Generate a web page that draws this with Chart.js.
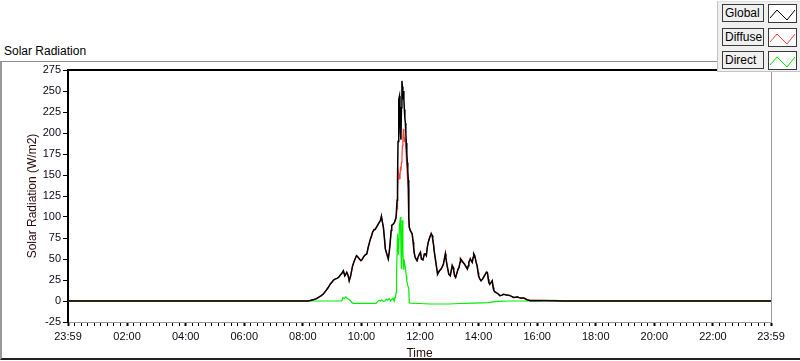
<!DOCTYPE html>
<html><head><meta charset="utf-8">
<script src="https://cdn.jsdelivr.net/npm/chart.js@4.4.1/dist/chart.umd.min.js"></script>
<style>
html,body{margin:0;padding:0;background:#fff;width:800px;height:361px;overflow:hidden;font-family:"Liberation Sans",Arial,sans-serif;}
#title{position:absolute;left:4px;top:44px;font-size:12px;line-height:14px;color:#000;white-space:nowrap;}
#frame{position:absolute;left:0;top:61px;width:830px;height:296px;border-top:1px solid #8c8c8c;border-left:2px solid #9a9a9a;border-bottom:2px solid #202020;}
#wrap{position:absolute;left:0;top:0;width:800px;height:361px;}
#legend{position:absolute;left:717px;top:1px;width:83px;height:71px;background:#f0f0f0;border-left:1px solid #c4c4c4;border-bottom:1px solid #c4c4c4;border-top:1px solid #e0e0e0;box-sizing:border-box;z-index:5;}
.row{position:absolute;left:4px;width:76px;height:19px;}
.lab{position:absolute;left:0;top:0;width:42px;height:18px;border:1px solid #3a3a3a;box-sizing:border-box;font-size:12px;line-height:16px;padding-left:2px;background:#f0f0f0;color:#000;white-space:nowrap;overflow:hidden;}
.sw{position:absolute;left:46px;top:0;width:29px;height:19px;border:1px solid #3a3a3a;background:#fff;box-sizing:border-box;}
.sw svg{position:absolute;left:0;top:0;}
</style>
</head><body>
<div id="frame"></div>
<div id="title">Solar Radiation</div>
<div id="wrap"><canvas id="c" width="800" height="361"></canvas></div>
<div id="legend"></div>
<script>
// ---- data ----
const seriesNames = ['Global', 'Diffuse', 'Direct'];
const seriesColors = ['#000000', '#ff4040', '#00ee00'];

const xMajorValues = [-1, 120, 240, 360, 480, 600, 720, 840, 960, 1080, 1200, 1320, 1439];
const xMajorLabels = ['23:59', '02:00', '04:00', '06:00', '08:00', '10:00', '12:00', '14:00', '16:00', '18:00', '20:00', '22:00', '23:59'];

// time in minutes after midnight
const globalTimes = [
  -1,490,495,501,507,512,517,522,527,532,
  536,539,543,546,550,553,557,560,563,566,
  570,573,575,578,582,585,587,590,592,596,
  599,601,605,608,611,614,618,621,623,626,
  628,631,633,635,637,639,641,643,645,647,
  649,651,653,655,657,659,661,662,664,666,
  668,670,671,673,674,675,676,677,678,679,
  680,681,682,683,684,685,686,687,688,689,
  690,691,692,693,694,695,696,697,698,700,
  702,704,706,707,708,710,712,714,716,719,
  721,723,726,729,731,733,735,737,739,741,
  743,745,746,748,749,751,753,755,756,758,
  760,763,765,768,770,772,773,775,777,779,
  782,784,786,788,789,791,793,796,798,800,
  802,803,806,808,811,813,815,817,819,820,
  823,825,827,829,830,832,833,835,837,839,
  840,842,845,848,851,854,856,858,860,861,
  863,864,866,868,870,871,873,877,880,884,
  888,891,895,898,902,905,909,912,916,919,
  923,926,930,933,936,939,943,946,950,960,
  1020,1439
];
const globalValues = [
  0,0,0.5,1.5,2.5,4.3,6,8.3,12,16,
  20,22,25,26,27,28,31,33,36,30,
  34,30,24,30,42,47,50,54,53,50,
  48,49,53,55,56,64,73,78,82,85,
  85,88,90,92,94,96,101,94,88,76,
  62,58,54,50,58,70,84,90,91,92,
  94,98,100,120,144,190,232,240,244,220,
  200,192,230,262,255,240,250,240,228,218,
  212,200,188,176,165,155,144,100,88,84,
  82,80,70,64,58,52,50,48,52,56,
  58,50,49,56,56,54,64,70,74,77,
  80,78,74,66,60,52,44,36,32,34,
  36,38,40,44,50,56,52,44,38,32,
  30,36,42,40,36,30,28,34,38,40,
  46,50,48,46,44,42,40,38,42,46,
  50,48,46,52,56,54,52,46,42,34,
  30,27,24,26,29,32,34,34,26,22,
  20,21,22,24,16,13,11,9.6,8.5,6.3,
  7,8,7.5,7,6.8,6.3,5,4.3,4.5,5,
  4,3.5,3.5,3.5,2.5,1.5,0.8,0.4,0.2,0.2,
  0,0
];
const diffuseValues = [
  0,0,0.5,1.5,2.5,4.3,6,8.3,12,16,
  20,22,25,26,27,28,31,33,36,30,
  34,30,24,30,42,47,50,54,53,50,
  48,49,53,55,56,64,73,78,82,85,
  85,88,90,92,94,96,101,94,88,76,
  62,58,54,50,58,70,84,90,91,92,
  94,96,98,110,130,145,150,152,148,145,
  160,155,165,170,185,195,205,200,190,195,
  190,182,170,160,150,140,135,100,88,84,
  82,80,70,64,58,52,50,48,52,56,
  58,50,49,56,56,54,64,70,74,78,
  81,78,74,66,60,52,44,36,32,34,
  36,38,40,44,50,57,52,44,38,32,
  30,36,43,40,36,30,28,34,38,40,
  46,51,48,46,44,42,40,38,42,46,
  51,48,46,52,57,54,52,46,42,34,
  30,27,24,26,29,32,35,34,26,22,
  20,21,23,24,16,13,11,9.6,8.5,6.3,
  7,8,7.5,7,6.8,6.3,5,4.3,4.5,5,
  4,3.5,3.5,3.5,2.5,1.5,1,1,1,1,
  0,0
];
const directTimes = [
  -1,490,560,562,565,568,571,574,578,581,
  583,600,630,633,636,639,642,645,648,651,
  654,657,660,662,664,666,667,668,669,670,
  671,672,674,676,678,680,681,682,684,685,
  686,687,688,690,692,693,695,697,698,700,
  720,740,780,800,830,860,870,880,900,940,
  965,970,1000,1003,1020,1439
];
const directValues = [
  0,0,0,4,3,5,3,2,0,-2,
  -2.8,-2.8,-2.8,-1,1,0,1.5,-0.5,0,2,
  1,3,0,2,3,1,3,2,4,6,
  10,30,80,55,90,100,60,38,96,60,
  38,50,47,40,30,24,18,15,-2,-2.5,
  -3,-3.6,-3.6,-3,-2.5,-2,-1,-0.5,0,0,
  0,0.8,0.8,0,0,0
];

// ---- chart ----
const FONT = '"Liberation Sans", Arial, sans-serif';
const toXY = (ts, vs) => ts.map((t, i) => ({ x: t, y: vs[i] }));

// axis tick positions: majors plus 8 minor ticks in each interval
const xTickValues = [];
for (let i = 0; i < xMajorValues.length; i++) {
  xTickValues.push(xMajorValues[i]);
  if (i < xMajorValues.length - 1) {
    const a = xMajorValues[i], b = xMajorValues[i + 1];
    for (let k = 1; k < 9; k++) xTickValues.push(a + (b - a) * k / 9);
  }
}
const majorIndex = v => xMajorValues.indexOf(v);

const framePlugin = {
  id: 'frame',
  afterDraw(chart) {
    const { ctx, chartArea: a } = chart;
    ctx.save();
    ctx.strokeStyle = '#000';
    ctx.lineWidth = 2;
    ctx.beginPath();
    ctx.moveTo(a.left - 1, a.top);
    ctx.lineTo(a.right, a.top);
    ctx.stroke();
    ctx.strokeStyle = '#9a9a9a';
    ctx.lineWidth = 1;
    ctx.beginPath();
    ctx.moveTo(a.right + 0.5, a.top);
    ctx.lineTo(a.right + 0.5, a.bottom);
    ctx.stroke();
    ctx.restore();
  }
};

const datasetValues = [
  toXY(globalTimes, globalValues),
  toXY(globalTimes, diffuseValues),
  toXY(directTimes, directValues)
];
const lineWidths = [1.5, 1.2, 1.2];

const chart = new Chart(document.getElementById('c'), {
  type: 'line',
  data: {
    datasets: seriesNames.map((n, i) => ({
      label: n,
      data: datasetValues[i],
      borderColor: seriesColors[i],
      backgroundColor: seriesColors[i],
      borderWidth: lineWidths[i],
      pointRadius: 0,
      tension: 0,
      fill: false
    }))
  },
  options: {
    responsive: false,
    animation: false,
    events: [],
    layout: { padding: { left: 0, top: 70, right: 29, bottom: 0 } },
    plugins: { legend: { display: false }, tooltip: { enabled: false } },
    scales: {
      x: {
        type: 'linear',
        min: -1,
        max: 1439,
        afterBuildTicks: s => { s.ticks = xTickValues.map(v => ({ value: v })); },
        afterFit: s => { s.height = 39; },
        ticks: {
          autoSkip: false, maxRotation: 0, minRotation: 0, padding: 4,
          color: '#0a0a1a', font: { family: FONT, size: 11 },
          callback: v => { const k = majorIndex(v); return k >= 0 ? xMajorLabels[k] : ''; }
        },
        grid: {
          drawOnChartArea: false, drawTicks: true, tickLength: 4, tickColor: '#000',
          tickWidth: c => (c.tick && majorIndex(c.tick.value) >= 0) ? 2 : 1
        },
        border: { color: '#9a9a9a', width: 1 },
        title: { display: true, text: 'Time', color: '#2a0a0a', font: { family: FONT, size: 12 }, padding: { top: 1, bottom: 0 } }
      },
      y: {
        min: -25,
        max: 275,
        afterFit: s => { s.width = 68; },
        ticks: { stepSize: 25, padding: 2, color: '#0a0a1a', font: { family: FONT, size: 11 } },
        grid: { drawOnChartArea: false, drawTicks: true, tickLength: 5, tickColor: '#000' },
        border: { color: '#000', width: 2 },
        title: { display: true, text: 'Solar Radiation (W/m2)', color: '#2a0a0a', font: { family: FONT, size: 12 }, padding: { top: 25, bottom: 0 } }
      }
    }
  },
  plugins: [framePlugin]
});

// ---- legend (HTML, built from the datasets) ----
const legend = document.getElementById('legend');
const rowTops = [2, 26, 49];
chart.data.datasets.forEach((ds, i) => {
  const row = document.createElement('div');
  row.className = 'row';
  row.style.top = rowTops[i] + 'px';
  const lab = document.createElement('div');
  lab.className = 'lab';
  lab.textContent = ds.label;
  const sw = document.createElement('div');
  sw.className = 'sw';
  sw.innerHTML = '<svg width="27" height="17" viewBox="0 0 27 17"><polyline points="1,13 8,5 18,15 26,5" fill="none" stroke="' + ds.borderColor + '" stroke-width="1"/></svg>';
  row.appendChild(lab);
  row.appendChild(sw);
  legend.appendChild(row);
});
</script>
</body></html>
